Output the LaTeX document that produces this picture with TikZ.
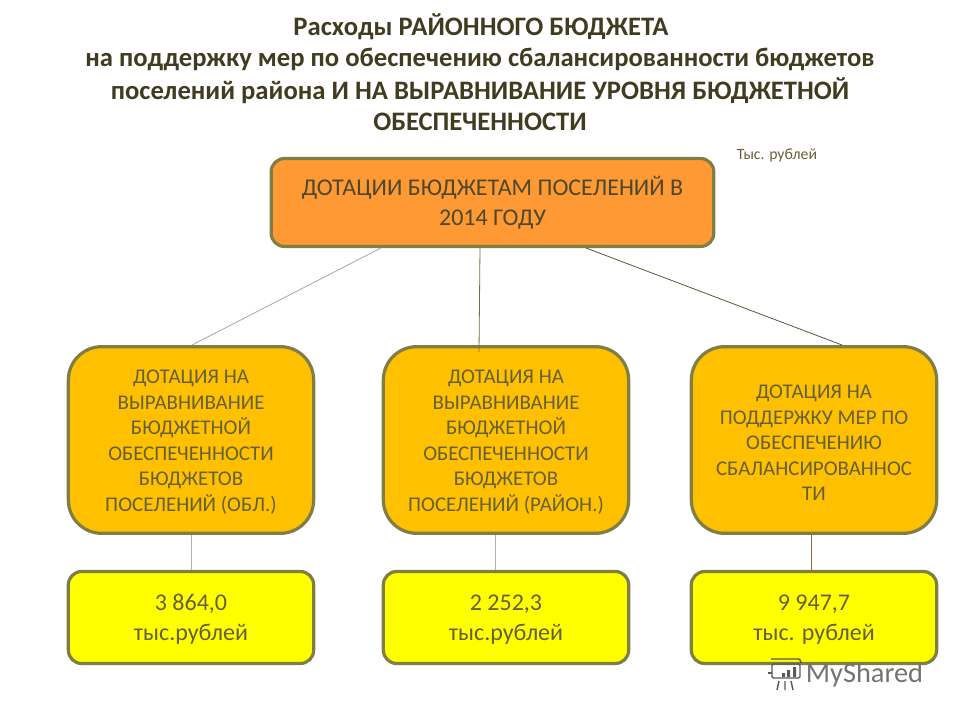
\documentclass[tikz,border=0pt]{standalone}
\usepackage{fontspec}
\setmainfont{Carlito}
\definecolor{edgeolive}{HTML}{7F7F45}
\definecolor{boxorange}{HTML}{FF9933}
\definecolor{boxamber}{HTML}{FFC000}
\definecolor{boxyellow}{HTML}{FFFF00}
\definecolor{textdark}{HTML}{65603A}
\definecolor{titletext}{HTML}{403C20}
\tikzset{
    titleline/.style={font=\fontsize{20}{24}\selectfont\bfseries, text=titletext, inner sep=0pt},
    topbox/.style={draw=edgeolive, line width=2.4pt, fill=boxorange, rounded corners=10pt,
        minimum width=332pt, minimum height=66pt, align=center, text=textdark!75!black,
        font=\fontsize{18}{22.5}\selectfont},
    midbox/.style={draw=edgeolive, line width=2.4pt, fill=boxamber, rounded corners=25pt,
        minimum width=184pt, minimum height=140pt, align=center, text=textdark,
        font=\fontsize{15.7}{19.2}\selectfont},
    lowbox/.style={draw=edgeolive, line width=2.4pt, fill=boxyellow, rounded corners=10pt,
        minimum width=184pt, minimum height=69pt, align=center, text=textdark,
        font=\fontsize{18}{22.5}\selectfont},
    textdrop/.style={execute at begin node={\rule{0pt}{#1}}},
    link/.style={line width=0.6pt},
    markline/.style={black!65, line width=1.1pt},
}
\begin{document}
\begin{tikzpicture}[x=0.75pt, y=-0.75pt]
    \useasboundingbox (0, 0) rectangle (960, 720);
    % title
    \node [titleline] (titlea) at (481, 27){Расходы РАЙОННОГО БЮДЖЕТА};
    \node [titleline] (titleb) at (480, 59){на поддержку мер по обеспечению сбалансированности бюджетов};
    \node [titleline] (titlec) at (480, 91){поселений района И НА ВЫРАВНИВАНИЕ УРОВНЯ БЮДЖЕТНОЙ};
    \node [titleline] (titled) at (480, 122){ОБЕСПЕЧЕННОСТИ};
    \node [font=\fontsize{11.8}{14}\selectfont, text=textdark, inner sep=0pt] (unit) at (777, 155){Тыс. рублей};

    % boxes
    \node [topbox] (top) at (492.5, 202.5){ДОТАЦИИ БЮДЖЕТАМ ПОСЕЛЕНИЙ В\\2014 ГОДУ};
    \node [midbox, textdrop=109.5pt] (oblast) at (191, 440){ДОТАЦИЯ НА\\ВЫРАВНИВАНИЕ\\БЮДЖЕТНОЙ\\ОБЕСПЕЧЕННОСТИ\\БЮДЖЕТОВ\\ПОСЕЛЕНИЙ (ОБЛ.)};
    \node [midbox, textdrop=109.5pt] (rayon) at (506, 440){ДОТАЦИЯ НА\\ВЫРАВНИВАНИЕ\\БЮДЖЕТНОЙ\\ОБЕСПЕЧЕННОСТИ\\БЮДЖЕТОВ\\ПОСЕЛЕНИЙ (РАЙОН.)};
    \node [midbox, textdrop=91.3pt] (balance) at (814, 440){ДОТАЦИЯ НА\\ПОДДЕРЖКУ МЕР ПО\\ОБЕСПЕЧЕНИЮ\\СБАЛАНСИРОВАННОС\\ТИ};
    \node [lowbox, textdrop=36.8pt] (sumoblast) at (191, 617.5){3 864,0\\тыс.рублей};
    \node [lowbox, textdrop=36.8pt] (sumrayon) at (506, 617.5){2 252,3\\тыс.рублей};
    \node [lowbox, textdrop=36.8pt] (sumbalance) at (814, 617.5){9 947,7\\тыс. рублей};

    % links
    \coordinate (topa) at (381, 248);
    \coordinate (topb) at (480, 248);
    \coordinate (topc) at (586, 248);
    \coordinate (oblastin) at (192, 345);
    \coordinate (rayonin) at (479, 352);
    \coordinate (balancein) at (842, 345);
    \coordinate (rayonout) at (495.5, 535);
    \coordinate (balanceout) at (811, 535);
    \draw [link, draw=black!35] (topa) -- (oblastin);
    \draw [link, draw=edgeolive!90!black] (topb) -- (rayonin);
    \draw [link, draw=edgeolive!70!black] (topc) -- (balancein);
    \draw [link, draw=black!30] (oblast.south) -- (sumoblast.north);
    \draw [link, draw=black!30] (rayonout) -- (rayonout |- sumrayon.north);
    \draw [link, draw=brown!80!black] (balanceout) -- (balanceout |- sumbalance.north);

    % site mark
    \node [font=\fontsize{21.3}{24}\selectfont, text=black!55, inner sep=0pt] (mark) at (864.5, 675){MyShared};
    \draw [markline, rounded corners=1pt] (772, 664) rectangle (800, 678);
    \draw [markline, rounded corners=1pt] (771, 659) -- (800, 659) -- (801, 663);
    \draw [markline] (772, 673) -- (768, 673);
    \fill [black!65] (782, 673) rectangle (785, 677) (787, 670) rectangle (790, 677) (793, 667) rectangle (796, 677);
    \draw [markline] (779, 681) -- (777, 690) (785, 681) -- (785, 690) (791, 681) -- (793, 690);
\end{tikzpicture}
\end{document}
